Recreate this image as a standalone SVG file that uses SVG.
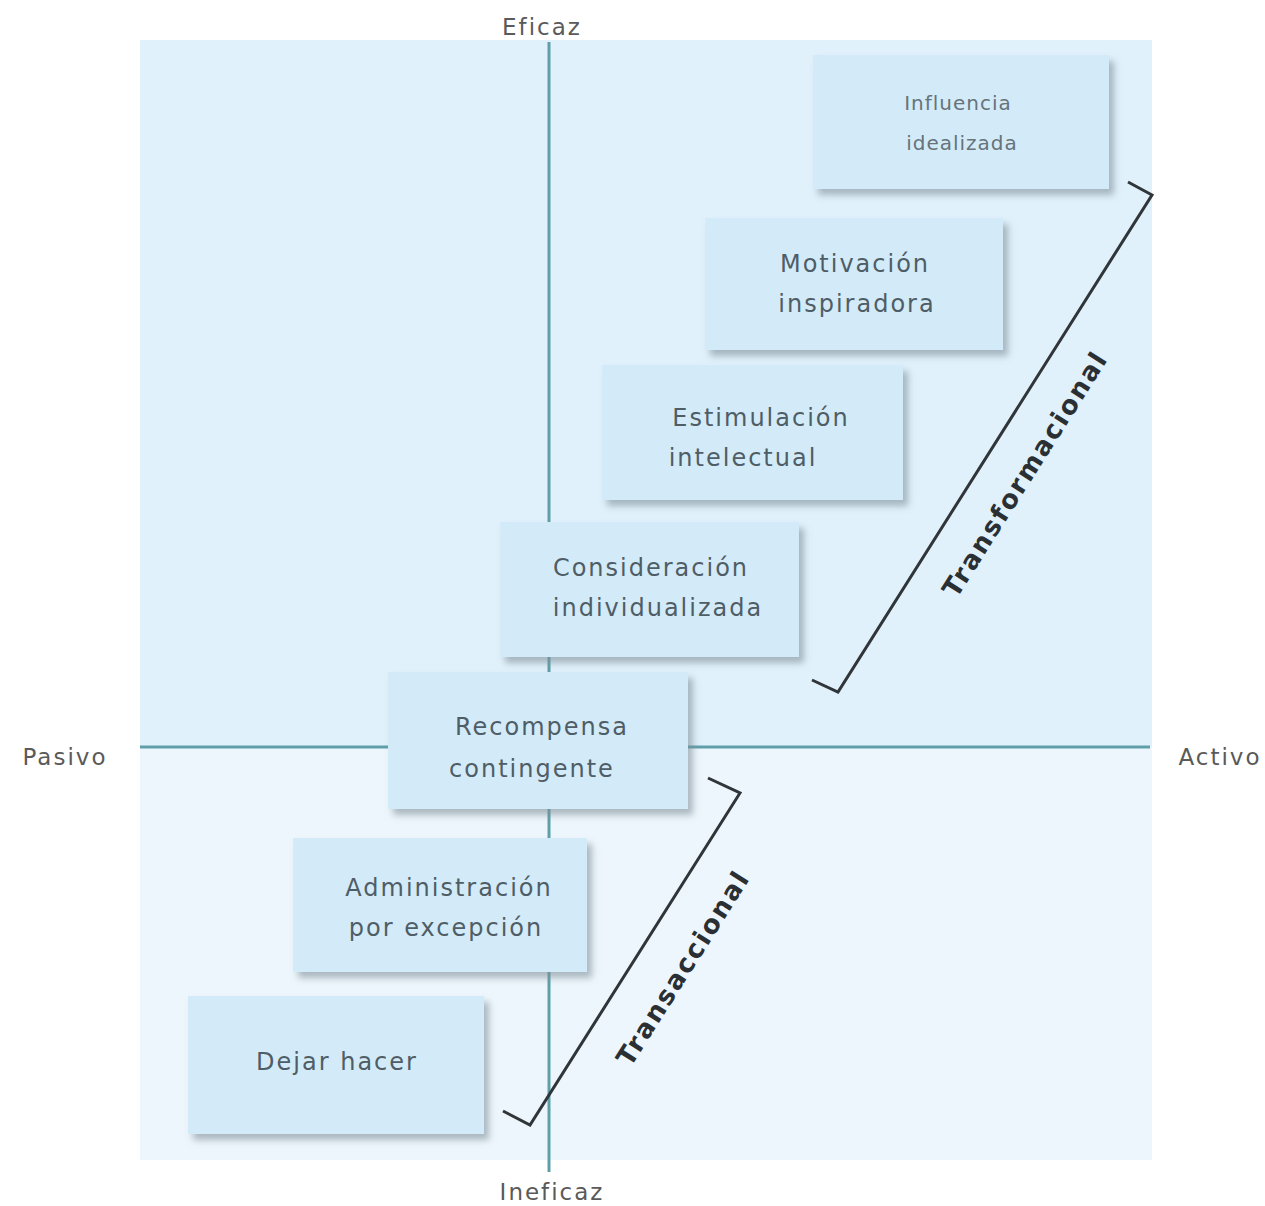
<svg xmlns="http://www.w3.org/2000/svg" width="1265" height="1206" viewBox="0 0 1265 1206">
<defs>
<filter id="sh" x="-10%" y="-10%" width="125%" height="130%">
<feDropShadow dx="5" dy="6" stdDeviation="3.5" flood-color="#7e8e98" flood-opacity="0.6"/>
</filter>
<style>
.box{fill:#d3ebf8;filter:url(#sh)}
.bt{font-family:"DejaVu Sans",Verdana,sans-serif;font-size:24px;letter-spacing:2px;fill:#4f5d66;text-anchor:middle}
.bt2{font-family:"DejaVu Sans",Verdana,sans-serif;font-size:20px;letter-spacing:1px;fill:#66737b;text-anchor:middle}
.ax{font-family:"DejaVu Sans",Verdana,sans-serif;font-size:23px;letter-spacing:2px;fill:#5a5a5a;text-anchor:middle}
.axis{stroke:#5e9fa9;stroke-width:3;fill:none}
.br{stroke:#2f3538;stroke-width:3;fill:none;stroke-linejoin:miter}
.bl{font-family:"DejaVu Sans",Verdana,sans-serif;font-size:26px;font-weight:bold;letter-spacing:2px;fill:#2a2f33;text-anchor:middle}
</style>
</defs>
<rect width="1265" height="1206" fill="#ffffff"/>
<rect x="140" y="40" width="1012" height="707" fill="#e0f1fb"/>
<rect x="140" y="747" width="1012" height="413" fill="#edf6fc"/>
<g id="axes">
<line class="axis" x1="549" y1="42" x2="549" y2="1172"/>
<line class="axis" x1="140" y1="747" x2="1150" y2="747"/>
<text class="ax" x="542" y="35">Eficaz</text>
<text class="ax" x="552" y="1200">Ineficaz</text>
<text class="ax" x="65" y="765">Pasivo</text>
<text class="ax" x="1220" y="765">Activo</text>
</g>
<g id="n1"><rect class="box" x="813" y="55" width="296" height="134"/><text class="bt2" x="958" y="110">Influencia</text><text class="bt2" x="962" y="150">idealizada</text></g>
<g id="n2"><rect class="box" x="705" y="218" width="298" height="132"/><text class="bt" x="855" y="272">Motivación</text><text class="bt" x="857" y="312">inspiradora</text></g>
<g id="n3"><rect class="box" x="602" y="365" width="301" height="135"/><text class="bt" x="761" y="426">Estimulación</text><text class="bt" x="743" y="466">intelectual</text></g>
<g id="n4"><rect class="box" x="500" y="522" width="299" height="135"/><text class="bt" x="651" y="576">Consideración</text><text class="bt" x="658" y="616">individualizada</text></g>
<g id="n5"><rect class="box" x="388" y="672" width="300" height="137"/><text class="bt" x="542" y="735">Recompensa</text><text class="bt" x="532" y="777">contingente</text></g>
<g id="n6"><rect class="box" x="293" y="838" width="294" height="134"/><text class="bt" x="449" y="896">Administración</text><text class="bt" x="446" y="936">por excepción</text></g>
<g id="n7"><rect class="box" x="188" y="996" width="296" height="138"/><text class="bt" x="337" y="1070">Dejar hacer</text></g>
<g id="connectors">
<polyline class="br" points="1128,182 1152,195 838,692 812,680"/>
<polyline class="br" points="708,778 740,793 530,1125 503,1111"/>
<text class="bl" transform="translate(1025,474) rotate(-57.7)" y="9">Transformacional</text>
<text class="bl" transform="translate(683,968) rotate(-57.7)" y="9">Transaccional</text>
</g>
</svg>
